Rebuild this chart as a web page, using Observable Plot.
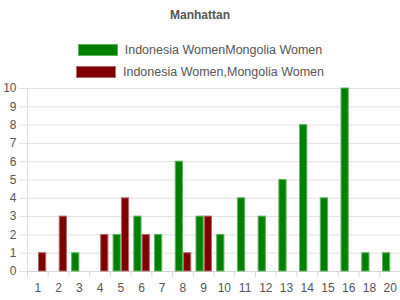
<!DOCTYPE html>
<html>
<head>
<meta charset="utf-8">
<script src="https://cdn.jsdelivr.net/npm/d3@7"></script>
<script src="https://cdn.jsdelivr.net/npm/@observablehq/plot@0.6"></script>
<style>
  body { margin: 0; width: 400px; height: 300px; background: #fff; font-family: "Liberation Sans", Arial, sans-serif; position: relative; overflow: hidden; }
  #title { position: absolute; top: 8px; left: 0; width: 400px; text-align: center; font-weight: bold; font-size: 12px; color: #555; }
  .row { position: absolute; left: 0; width: 400px; display: flex; justify-content: center; align-items: center; font-size: 12.5px; color: #555; }
  .sw { width: 38px; height: 10px; margin-right: 7px; }
  #chart { position: absolute; top: 80px; left: 0; }
</style>
</head>
<body>
<div id="title"></div>
<div id="legend"></div>
<div id="chart"></div>
<script>
const title = "Manhattan";
const categories = ["1","2","3","4","5","6","7","8","9","10","11","12","13","14","15","16","18","20"];
const seriesNames = ["Indonesia WomenMongolia Women", "Indonesia Women,Mongolia Women"];
const greenValues = [0,0,1,0,2,3,2,6,3,2,4,3,5,8,4,10,1,1];
const redValues   = [1,3,0,2,4,2,0,1,3,0,0,0,0,0,0,0,0,0];
const yTicks = [0,1,2,3,4,5,6,7,8,9,10];
const fills = ["#008000", "#800000"];
const strokes = ["#5fb35f", "#b56a6a"];

document.getElementById("title").textContent = title;
const legend = document.getElementById("legend");
seriesNames.forEach((name, i) => {
  const row = document.createElement("div");
  row.className = "row";
  row.style.top = (43 + i * 22) + "px";
  const sw = document.createElement("div");
  sw.className = "sw";
  sw.style.background = fills[i];
  sw.style.border = "1px solid " + strokes[i];
  const t = document.createElement("span");
  t.textContent = name;
  row.appendChild(sw); row.appendChild(t);
  legend.appendChild(row);
});

const green = categories.map((c, i) => ({cat: c, value: greenValues[i]})).filter(d => d.value > 0);
const red = categories.map((c, i) => ({cat: c, value: redValues[i]})).filter(d => d.value > 0);

const W = 400, ML = 27, MR = 0;
const bw = (W - ML - MR) / categories.length;

const chart = Plot.plot({
  width: W,
  height: 220,
  marginTop: 8,
  marginBottom: 29,
  marginLeft: ML,
  marginRight: MR,
  style: { fontFamily: "Liberation Sans, Arial, sans-serif", fontSize: "12px", color: "#555", background: "transparent" },
  x: { type: "band", domain: categories, padding: 0, round: false },
  y: { domain: [0, 10] },
  marks: [
    Plot.gridY(yTicks, { stroke: "#e2e2e2", strokeOpacity: 1 }),
    Plot.axisY({ ticks: yTicks, tickSize: 8, tickPadding: 3, stroke: "#e2e2e2", strokeOpacity: 1, fill: "#555", label: null, fontSize: 12 }),
    Plot.axisX({ tickSize: 0, tickPadding: 12, fill: "#555", label: null, fontSize: 12 }),
    Plot.axisX({ tickSize: 6, text: null, dx: -bw / 2, stroke: "#d8d8d8", strokeOpacity: 1, label: null }),
    Plot.ruleY([0], { stroke: "#d8d8d8" }),
    Plot.ruleX([categories[0]], { dx: -bw / 2, y1: 0, y2: 10, stroke: "#e2e2e2" }),
    Plot.barY(green, { x: "cat", y: "value", fill: fills[0], stroke: strokes[0], strokeWidth: 1, insetLeft: 3.2, insetRight: 10.3 }),
    Plot.barY(red, { x: "cat", y: "value", fill: fills[1], stroke: strokes[1], strokeWidth: 1, insetLeft: 11.5, insetRight: 2 })
  ]
});
document.getElementById("chart").appendChild(chart);
</script>
</body>
</html>
